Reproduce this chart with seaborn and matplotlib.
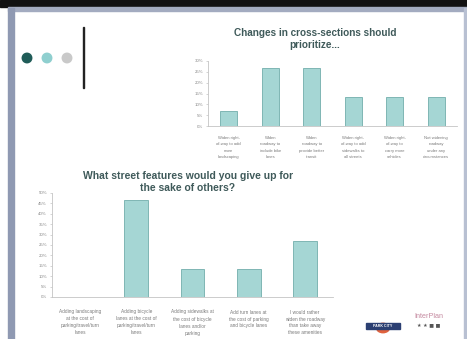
import matplotlib
matplotlib.use("Agg")
import matplotlib.pyplot as plt
from matplotlib.patches import Rectangle, Circle, Ellipse
from matplotlib.ticker import FuncFormatter
import seaborn as sns
import pandas as pd

# Survey results: share of respondents per answer
top_title = "Changes in cross-sections should\nprioritize..."
top_labels = [
    "Widen right-\nof-way to add\nmore\nlandscaping",
    "Widen\nroadway to\ninclude bike\nlanes",
    "Widen\nroadway to\nprovide better\ntransit",
    "Widen right-\nof-way to add\nsidewalks to\nall streets",
    "Widen right-\nof-way to\ncarry more\nvehicles",
    "Not widening\nroadway\nunder any\ncircumstances",
]
top_values = [6.7, 26.7, 26.7, 13.3, 13.3, 13.3]
top_ticks = [0, 5, 10, 15, 20, 25, 30]

bottom_title = "What street features would you give up for\nthe sake of others?"
bottom_labels = [
    "Adding landscaping\nat the cost of\nparking/travel/turn\nlanes",
    "Adding bicycle\nlanes at the cost of\nparking/travel/turn\nlanes",
    "Adding sidewalks at\nthe cost of bicycle\nlanes and/or\nparking",
    "Add turn lanes at\nthe cost of parking\nand bicycle lanes",
    "I would rather\nwiden the roadway\nthan take away\nthese amenities",
]
bottom_values = [0.0, 46.7, 13.3, 13.3, 26.7]
bottom_ticks = [0, 5, 10, 15, 20, 25, 30, 35, 40, 45, 50]

W, H = 467, 339
BAR = "#a5d6d4"
EDGE = "#72aeac"
TITLE = "#3f5a5a"
TICK = "#8a8a8a"

sns.set_theme(style="white")
plt.rcParams["font.family"] = ["Liberation Sans", "DejaVu Sans"]

fig = plt.figure(figsize=(W / 100, H / 100), dpi=100)
fig.patch.set_facecolor("white")


def box(x0, y0, x1, y1):
    """Figure-fraction rectangle from pixel corners (top-left origin)."""
    return [x0 / W, 1 - y1 / H, (x1 - x0) / W, (y1 - y0) / H]


# Slide frame
fig.patches.append(Rectangle((0, 1 - 7 / H), 1, 7 / H, transform=fig.transFigure,
                             color="#111111", zorder=0))
fig.patches.append(Rectangle((8 / W, 1 - 10.5 / H), 1 - 8 / W, 3 / H, transform=fig.transFigure,
                             color="#a3abc0", zorder=0))
fig.patches.append(Rectangle((8 / W, 0), 5.5 / W, 1 - 8 / H, transform=fig.transFigure,
                             color="#8f99b2", zorder=0))
fig.patches.append(Rectangle((464 / W, 0), 3 / W, 1 - 8 / H, transform=fig.transFigure,
                             color="#b8c0d2", zorder=0))

# Decorative dots and divider
for cx, col in [(27, "#1f5c58"), (47, "#8fcfcf"), (67, "#c9c9c9")]:
    fig.patches.append(Ellipse((cx / W, 1 - 58 / H), 9.5 / W, 9.5 / H,
                               transform=fig.transFigure, color=col, zorder=1))
fig.patches.append(Rectangle((82.5 / W, 1 - 88 / H), 1.6 / W, 61 / H,
                             transform=fig.transFigure, color="#222222", zorder=1))


def draw_chart(rect, labels, values, ticks, ymax, pad, lsize, lspace):
    ax = fig.add_axes(rect)
    df = pd.DataFrame({"answer": labels, "share": values})
    sns.barplot(data=df, x="answer", y="share", color=BAR, edgecolor=EDGE,
                linewidth=0.6, width=0.42, saturation=1, ax=ax)
    ax.set_ylim(0, ymax)
    ax.set_xlim(-0.5, len(labels) - 0.5)
    ax.set_yticks(ticks)
    ax.yaxis.set_major_formatter(FuncFormatter(lambda v, p: f"{v:.0f}%"))
    ax.set_xlabel("")
    ax.set_ylabel("")
    for s in ["top", "right"]:
        ax.spines[s].set_visible(False)
    for s in ["left", "bottom"]:
        ax.spines[s].set_color("#c4c4c4")
        ax.spines[s].set_linewidth(0.6)
    ax.tick_params(axis="y", left=True, length=1.5, width=0.5, color="#c4c4c4",
                   labelsize=3.2, labelcolor=TICK, pad=2)
    ax.tick_params(axis="x", bottom=False, labelsize=lsize, labelcolor="#7a7a7a", pad=pad)
    for t in ax.get_xticklabels():
        t.set_linespacing(lspace)
        t.set_horizontalalignment("center")
    ax.set_facecolor("none")
    return ax


draw_chart(box(208, 61, 457, 126), top_labels, top_values, top_ticks, 30, 1.0, 3.0, 1.85)
draw_chart(box(52, 193, 333, 297), bottom_labels, bottom_values, bottom_ticks, 50, 3.0, 3.4, 1.5)

fig.text(315 / W, 1 - 39 / H, top_title, ha="center", va="center", fontsize=7.2,
         fontweight="heavy", color=TITLE, linespacing=1.2)
fig.text(188 / W, 1 - 182 / H, bottom_title, ha="center", va="center", fontsize=7.5,
         fontweight="heavy", color=TITLE, linespacing=1.2)

# Logos in the lower right corner
fig.patches.append(Circle((383 / W, 1 - 328 / H), 6.5 / W, transform=fig.transFigure,
                          color="#e0623e", zorder=2))
fig.patches.append(Rectangle((366 / W, 1 - 329 / H), 34 / W, 6 / H, transform=fig.transFigure,
                             color="#2b3f72", zorder=3))
fig.text(383 / W, 1 - 326 / H, "PARK CITY", ha="center", va="center", fontsize=2.6,
         color="white", fontweight="bold", zorder=4)
fig.text(429 / W, 1 - 317 / H, "InterPlan", ha="center", va="center", fontsize=5.2,
         color="#c58aa0")
fig.text(429 / W, 1 - 326 / H, "\u2605 \u2605 \u25a0 \u25a0", ha="center", va="center",
         fontsize=3.6, color="#555555", family=["DejaVu Sans"])

fig.savefig("out.png", dpi=100, facecolor="white")
